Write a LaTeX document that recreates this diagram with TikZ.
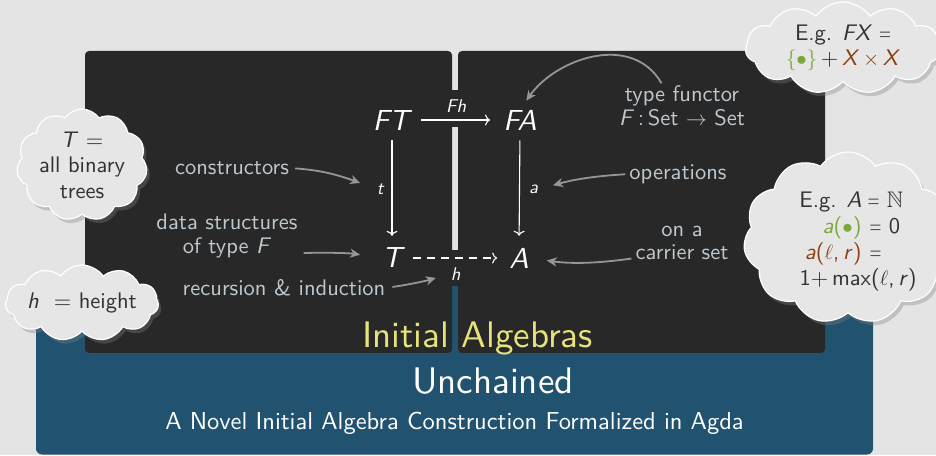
\documentclass[tikz,border=0pt]{standalone}
\usepackage{fontspec}
\usepackage{amssymb}
\setsansfont{lmsans10-regular.otf}[ItalicFont=lmsans10-oblique.otf,BoldFont=lmsans10-bold.otf]
\usetikzlibrary{shapes.symbols,shadows,arrows.meta}
\definecolor{bg}{RGB}{228,228,228}
\definecolor{panel}{RGB}{40,40,40}
\definecolor{blu}{RGB}{33,83,112}
\definecolor{lbl}{RGB}{190,200,206}
\definecolor{arr}{RGB}{150,150,150}
\definecolor{ttl}{RGB}{232,226,124}
\definecolor{grn}{RGB}{122,168,58}
\definecolor{brn}{RGB}{139,62,16}
\definecolor{cloudf}{RGB}{230,230,230}
\definecolor{ctext}{RGB}{50,50,50}
\newcommand\nareq{\scalebox{0.68}[1]{=}}
\begin{document}
\begin{tikzpicture}[x=1pt,y=1pt,
  obj/.style={text=white,font=\sffamily\itshape\fontsize{29}{32}\selectfont,inner sep=0pt},
  mlab/.style={text=white,font=\sffamily\itshape\fontsize{18.5}{22}\selectfont,inner sep=1pt},
  ann/.style={text=lbl,font=\sffamily\fontsize{22.5}{23.5}\selectfont,align=center,inner sep=0pt},
  annarr/.style={draw=arr,line width=1.8pt,-{Stealth[length=10pt,width=9pt,inset=3pt]}},
  dia/.style={draw=white,line width=1.1pt,-{To[length=5pt,width=11pt]}},
  cloudy/.style={cloud,cloud puffs=11,cloud puff arc=110,cloud ignores aspect,fill=cloudf,draw=white,line width=1.2pt,text=ctext,font=\sffamily\fontsize{22.5}{25.5}\selectfont,align=center,inner sep=0pt,drop shadow={opacity=0.35,shadow xshift=3pt,shadow yshift=-4pt}},
  bigt/.style={inner sep=0pt,anchor=base west}
]
\useasboundingbox[fill=bg] (0,0) rectangle (936,455);
% boxes
\fill[blu, rounded corners=6pt] (36,0.5) rectangle (873,169);
\fill[panel, rounded corners=4pt] (85,102) rectangle (452,404);
\fill[panel, rounded corners=4pt] (458,102) rectangle (825,404);
\fill[panel] (451,328) rectangle (459,365);
\fill[panel] (451,169) rectangle (459,205);
% diagram
\node[obj] (FT) at (391,335) {FT};
\node[obj] (FA) at (520,335) {FA};
\node[obj] (T) at (392,197) {T};
\node[obj] (A) at (519,197) {A};
\draw[dia, shorten <=12pt, shorten >=13pt] (FT) -- node[mlab, above=6pt] (lFh) {Fh} (FA);
\draw[dia, shorten <=10pt, shorten >=12pt] (FT.south -| T) -- node[mlab, left=7pt] (lt) {t} (T.north -| T);
\draw[dia, shorten <=10pt, shorten >=12pt] (FA.south) -- node[mlab, right=8pt] (la) {a} (A.north);
\draw[dia, dash pattern=on 8pt off 6pt, shorten <=11pt, shorten >=12pt] (T.east) -- node[mlab, below=8pt] (lh) {h} (A.west);
% annotations
\node[ann] (cons) at (232,287) {constructors};
\draw[annarr, shorten <=6pt] (cons.east) to[bend left=8] ([xshift=-15pt,yshift=6pt]lt.west);
\node[ann] (data) at (227,219) {data structures\\of type \textit{F}};
\draw[annarr, shorten >=22pt] ([shift={(6,-17)}]data.east) to[bend left=5] (T.west);
\node[ann] (rec) at (284,167) {recursion \& induction};
\draw[annarr, shorten <=7pt, shorten >=14pt] (rec.east) to[bend right=4] (lh.west);
\node[ann] (tf) at (682,349) {type functor\\\textit{F}\,:\,Set $\to$ Set};
\draw[annarr, shorten <=3pt, shorten >=11pt] ([xshift=-19pt]tf.north) to[out=120,in=55,looseness=1.1] (FA.north);
\node[ann] (ops) at (678,281) {operations};
\draw[annarr, shorten <=4pt, shorten >=14pt] (ops.west) to[bend right=6] (la.east);
\node[ann] (car) at (682,212) {on a\\carrier set};
\draw[annarr, shorten <=4pt, shorten >=18pt] ([yshift=-15pt]car.west) to[bend left=8] (A.east);
% titles
\node[bigt, text=ttl, font=\sffamily\fontsize{37}{40}\selectfont] (ttl) at (362,107) {Initial Algebras};
\node[bigt, text=white, font=\sffamily\fontsize{37}{40}\selectfont] (un) at (412,62) {Unchained};
\node[inner sep=0pt, anchor=base, text=white, font=\sffamily\fontsize{24.5}{26}\selectfont] (sub) at (454.5,26) {A Novel Initial Algebra Construction Formalized in Agda};
% clouds
\node[cloudy, minimum width=130pt, minimum height=112pt] (c1) at (82,290) {\textit{T} =\\all binary\\trees};
\node[cloudy, minimum width=150pt, minimum height=76pt] (c2) at (82,152) {\textit{h}\ \ = height};
\node[cloudy, minimum width=195pt, minimum height=92pt] (c3) at (843,407) {E.g. \textit{FX}\hspace{7pt}\nareq\\\textcolor{grn}{$\{\bullet\}$}\,+\,\textcolor{brn}{\textit{X}\,$\times$\,\textit{X}}};
\node[cloudy, minimum width=185pt, minimum height=172pt] (c4) at (848,217) {\hspace*{21pt}\raisebox{-4pt}[\height][\depth]{\parbox{118pt}{\raggedright\baselineskip=26pt
\makebox[62pt][r]{E.g. \textit{A}}\hspace{6pt}\nareq\ $\mathbb{N}$\\
\makebox[62pt][r]{\textcolor{grn}{\textit{a}($\bullet$)}}\hspace{8pt}\nareq\ 0\\
\makebox[62pt][r]{\textcolor{brn}{\textit{a}($\ell$,\,\textit{r})}}\hspace{8pt}\nareq\\
1+\,max($\ell$,\,\textit{r})}}};
\end{tikzpicture}
\end{document}
